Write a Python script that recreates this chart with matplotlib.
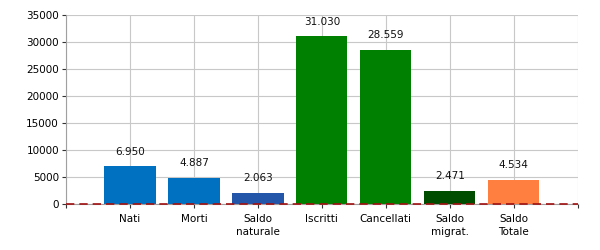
import matplotlib
matplotlib.use("Agg")
import matplotlib.pyplot as plt

categories = ["Nati", "Morti", "Saldo\nnaturale", "Iscritti", "Cancellati", "Saldo\nmigrat.", "Saldo\nTotale"]
values = [6950, 4887, 2063, 31030, 28559, 2471, 4534]
labels = ["6.950", "4.887", "2.063", "31.030", "28.559", "2.471", "4.534"]
colors = ["#0070C0", "#0070C0", "#2356A8", "#008000", "#008000", "#004D00", "#FF7F40"]
yticks = [0, 5000, 10000, 15000, 20000, 25000, 30000, 35000]

plt.rcParams['font.family'] = ['DejaVu Sans']
fig = plt.figure(figsize=(6, 2.5), dpi=100)
ax = fig.add_axes([0.11, 0.184, 0.853, 0.756])

pos = list(range(1, len(categories) + 1))
ax.bar(pos, values, width=0.8, color=colors, zorder=3)
for p, v, l in zip(pos, values, labels):
    ax.annotate(l, (p, v), xytext=(0, 7), textcoords="offset points",
                ha="center", va="bottom", fontsize=7.5, color="#111111", zorder=4)

ax.axhline(0, color="#A01010", linestyle=(0, (5, 3)), linewidth=1.2, zorder=6, clip_on=False)

ax.set_xlim(0, len(categories) + 1)
ax.set_ylim(0, 35000)
ax.set_yticks(yticks)
ax.set_yticklabels([str(t) for t in yticks], fontsize=7.5)
ax.set_xticks(range(0, len(categories) + 2))
ax.set_xticklabels([""] + categories + [""], fontsize=7.5, linespacing=1.35)
ax.grid(True, color="#C8C8C8", linewidth=0.8, zorder=0)
for s in ["top", "right"]:
    ax.spines[s].set_visible(False)
ax.spines["left"].set_color("#A0A0A0")
ax.spines["bottom"].set_color("#A0A0A0")
ax.tick_params(axis="both", length=3, color="#333333")
ax.tick_params(axis="x", pad=4)
ax.tick_params(axis="y", pad=2)

fig.savefig("out.png", dpi=100)
